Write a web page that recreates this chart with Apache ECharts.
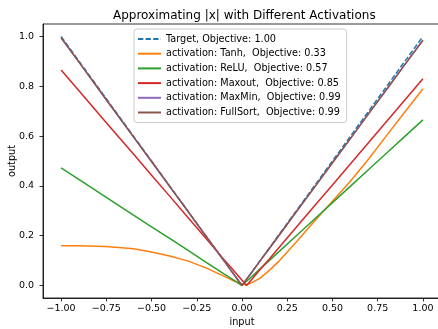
<!DOCTYPE html>
<html>
<head>
<meta charset="utf-8">
<script src="https://cdn.jsdelivr.net/npm/echarts@6/dist/echarts.min.js"></script>
<style>html,body{margin:0;padding:0;background:#fff}#c{width:438px;height:329px}</style>
</head>
<body>
<div id="c"></div>
<script>
const inputs   = [-1, -0.9, -0.75, -0.6, -0.5, -0.4, -0.3, -0.2, -0.1, -0.05, 0, 0.025, 0.05, 0.1, 0.15, 0.2, 0.3, 0.4, 0.5, 0.6, 0.7, 0.8, 0.9, 1.0];
const target   = [1.0, 0.9, 0.75, 0.6, 0.5, 0.4, 0.3, 0.2, 0.1, 0.05, 0, 0.025, 0.05, 0.1, 0.15, 0.2, 0.3, 0.4, 0.5, 0.6, 0.7, 0.8, 0.9, 1.0];
const tanh     = [0.16, 0.16, 0.157, 0.148, 0.135, 0.119, 0.099, 0.071, 0.038, 0.02, 0.006, 0.003, 0.01, 0.03, 0.06, 0.095, 0.175, 0.258, 0.338, 0.42, 0.508, 0.603, 0.697, 0.79];
const relu     = [0.472, 0.425, 0.354, 0.283, 0.236, 0.189, 0.142, 0.094, 0.047, 0.024, 0.0, 0.017, 0.033, 0.067, 0.1, 0.133, 0.2, 0.266, 0.333, 0.399, 0.466, 0.532, 0.599, 0.665];
const maxout   = [0.865, 0.781, 0.654, 0.528, 0.443, 0.359, 0.274, 0.190, 0.105, 0.063, 0.021, 0.0, 0.021, 0.064, 0.106, 0.149, 0.234, 0.319, 0.404, 0.489, 0.574, 0.660, 0.745, 0.83];
const maxmin   = [0.995, 0.896, 0.746, 0.597, 0.498, 0.398, 0.299, 0.199, 0.1, 0.05, 0.0, 0.025, 0.049, 0.099, 0.148, 0.197, 0.296, 0.394, 0.493, 0.591, 0.690, 0.788, 0.887, 0.985];
const fullsort = [0.995, 0.896, 0.746, 0.597, 0.498, 0.398, 0.299, 0.199, 0.1, 0.05, 0.0, 0.025, 0.049, 0.099, 0.148, 0.197, 0.296, 0.394, 0.493, 0.591, 0.690, 0.788, 0.887, 0.985];
const seriesNames = [
  'Target, Objective: 1.00',
  'activation: Tanh,  Objective: 0.33',
  'activation: ReLU,  Objective: 0.57',
  'activation: Maxout,  Objective: 0.85',
  'activation: MaxMin,  Objective: 0.99',
  'activation: FullSort,  Objective: 0.99'
];
const xTicks = [-1, -0.75, -0.5, -0.25, 0, 0.25, 0.5, 0.75, 1];
const yTicks = [0, 0.2, 0.4, 0.6, 0.8, 1.0];
const colors = ['#1f77b4', '#ff7f0e', '#2ca02c', '#d62728', '#9467bd', '#8c564b'];

const allY = [target, tanh, relu, maxout, maxmin, fullsort];
const FONT = 'DejaVu Sans';
const chart = echarts.init(document.getElementById('c'), null, {renderer: 'canvas'});
const series = allY.map((ys, i) => ({
  name: seriesNames[i],
  type: 'line',
  symbol: 'none',
  smooth: false,
  animation: false,
  data: inputs.map((x, j) => [x, ys[j]]),
  lineStyle: {color: colors[i], width: 1.5, type: i === 0 ? [5.3, 2.3] : 'solid'},
  itemStyle: {color: colors[i]},
  z: 2 + i
}));
const axisLineStyle = {show: true, onZero: false, lineStyle: {color: '#000', width: 0.8}};
chart.setOption({
  animation: false,
  color: colors,
  title: {
    text: 'Approximating |x| with Different Activations',
    left: 108, top: 5,
    textStyle: {fontFamily: FONT, fontSize: 12, fontWeight: 'normal', color: '#000'}
  },
  legend: {
    orient: 'vertical', left: 134, top: 29,
    backgroundColor: 'rgba(255,255,255,0.8)', borderColor: '#cccccc', borderWidth: 1, borderRadius: 3,
    padding: [4.5, 6, 4.5, 3],
    itemWidth: 23, itemHeight: 10, itemGap: 3.7,
    itemStyle: {opacity: 0},
    textStyle: {fontFamily: FONT, fontSize: 9.7, color: '#000', lineHeight: 11},
    data: seriesNames
  },
  grid: {left: 43, top: 24, width: 398, height: 274, show: true, borderColor: '#000', borderWidth: 0.8,
    backgroundColor: 'transparent', containLabel: false, outerBoundsMode: 'none'},
  xAxis: {
    type: 'value', min: -1.1, max: 1.1,
    name: 'input', nameLocation: 'middle', nameGap: 19, nameMoveOverlap: false,
    nameTextStyle: {fontFamily: FONT, fontSize: 9.7, color: '#000'},
    axisLine: axisLineStyle,
    splitLine: {show: false},
    axisTick: {show: true, customValues: xTicks, length: 3.5, lineStyle: {color: '#000', width: 0.8}},
    axisLabel: {customValues: xTicks, margin: 6, fontFamily: FONT, fontSize: 9.5, color: '#000',
      formatter: v => v.toFixed(2).replace('-', '\u2212')}
  },
  yAxis: {
    type: 'value', min: -0.05, max: 1.05,
    name: 'output', nameLocation: 'middle', nameGap: 26, nameMoveOverlap: false,
    nameTextStyle: {fontFamily: FONT, fontSize: 9.7, color: '#000'},
    axisLine: axisLineStyle,
    splitLine: {show: false},
    axisTick: {show: true, customValues: yTicks, length: 3.5, lineStyle: {color: '#000', width: 0.8}},
    axisLabel: {customValues: yTicks, margin: 9, fontFamily: FONT, fontSize: 9.5, color: '#000',
      formatter: v => v.toFixed(1)}
  },
  series: series
});
</script>
</body>
</html>
